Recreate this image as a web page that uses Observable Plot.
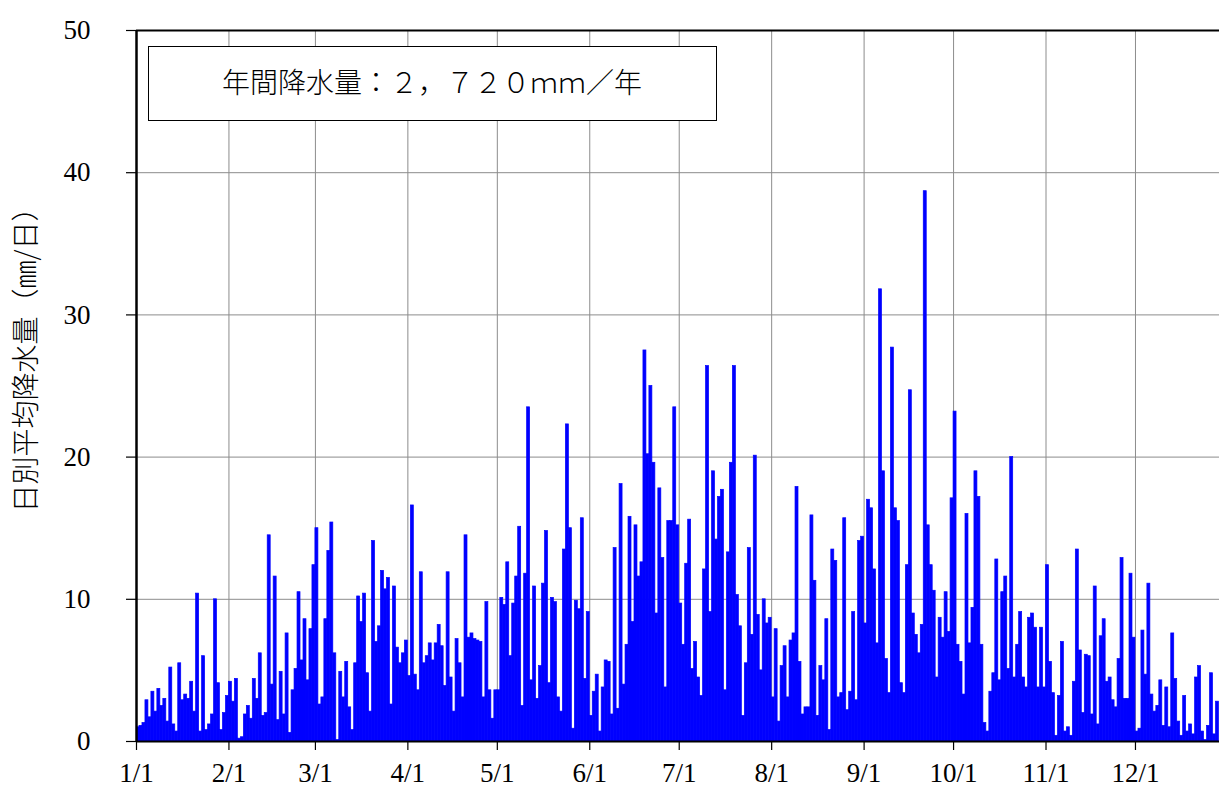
<!DOCTYPE html>
<html>
<head>
<meta charset="utf-8">
<script src="https://cdn.jsdelivr.net/npm/d3@7"></script>
<script src="https://cdn.jsdelivr.net/npm/@observablehq/plot@0.6"></script>
<style>
  html, body { margin: 0; padding: 0; background: white; overflow: hidden; }
  #chart { position: relative; width: 1219px; height: 789px; }
</style>
</head>
<body>
<div id="chart"></div>
<script>
// Daily mean precipitation (mm/day), leap year
const jan = [1.0,1.1,1.3,2.9,1.7,3.5,2.1,3.7,2.5,3.0,1.4,5.2,1.2,0.7,5.5,2.9,3.3,3.0,4.2,2.1,10.4,0.7,6.0,0.8,1.2,1.9,10.0,4.1,0.8,2.0,3.2];
const feb = [4.2,2.8,4.4,0.2,0.3,1.9,2.5,1.6,4.4,3.0,6.2,1.8,2.0,14.5,4.0,11.6,1.5,4.9,1.9,7.6,0.6,3.6,5.1,10.5,5.7,8.6,4.3,7.9,12.4];
const mar = [15.0,2.6,3.1,8.6,13.4,15.4,6.2,0.1,4.9,3.1,5.6,2.4,0.8,5.5,10.2,8.4,10.4,4.8,2.1,14.1,7.0,8.1,12.0,10.7,11.5,2.6,10.9,6.6,5.5,6.2,7.1];
const apr = [4.6,16.6,4.7,3.6,11.9,5.5,6.0,6.9,5.7,6.9,8.2,6.7,3.9,11.9,4.5,2.1,7.2,5.5,3.1,14.5,7.3,7.6,7.2,7.1,7.0,3.1,9.8,3.6,1.6,3.6];
const may = [3.6,10.1,9.6,12.6,6.0,9.7,11.6,15.1,2.5,11.8,23.5,4.3,10.9,3.0,5.3,11.1,14.8,4.1,10.1,9.8,3.1,2.1,13.5,22.3,15.0,0.9,9.9,9.3,15.7,4.4,9.1];
const jun = [1.8,3.5,4.7,0.7,3.8,5.7,5.6,1.9,13.6,2.3,18.1,4.0,6.8,15.8,8.4,15.2,11.6,12.6,27.5,20.2,25.0,19.6,9.0,17.8,12.9,3.8,15.5,15.5,23.5,15.2];
const jul = [9.7,6.8,12.5,15.6,5.1,7.0,4.5,3.2,12.1,26.4,9.1,19.0,14.2,17.2,17.7,3.6,13.3,19.6,26.4,10.3,8.1,1.8,5.5,13.6,7.5,20.1,8.9,5.0,10.0,8.3,8.7];
const aug = [3.1,7.9,1.4,5.3,6.7,3.1,7.1,7.6,17.9,5.6,1.9,2.4,2.4,15.9,11.3,1.8,5.3,4.3,8.6,0.8,13.5,12.7,3.1,3.4,15.7,2.2,3.5,9.1,2.9,14.1,14.4];
const sep = [8.3,17.0,16.4,12.1,6.9,31.8,19.0,5.8,3.4,27.7,16.4,15.5,4.1,3.4,12.4,24.7,9.0,7.5,6.2,8.2,38.7,15.2,12.4,10.6,4.5,8.7,7.3,10.5,7.7,17.1];
const oct = [23.2,6.8,5.6,3.3,16.0,6.9,9.4,19.0,17.2,6.8,1.3,0.7,3.5,4.8,12.8,4.3,10.5,11.6,5.1,20.0,4.5,6.8,9.1,4.5,3.8,8.7,9.0,8.0,3.8,8.0,3.8];
const nov = [12.4,5.6,3.4,0.4,3.2,7.0,0.7,1.0,0.4,4.2,13.5,6.4,2.0,6.1,6.0,1.9,10.9,1.2,7.4,8.6,4.2,4.5,2.9,2.4,5.8,12.9,3.0,3.0,11.8,7.3];
const dec = [0.7,0.9,7.8,4.7,11.1,3.3,2.1,2.5,4.3,1.1,3.8,1.0,7.6,4.4,1.4,0.4,3.2,0.7,1.2,0.5,4.5,5.3,0.7,0.1,1.1,4.8,0.5,2.8];

const monthLabels = ["1/1","2/1","3/1","4/1","5/1","6/1","7/1","8/1","9/1","10/1","11/1","12/1"];
const monthLengths = [31,29,31,30,31,30,31,31,30,31,30,31];
const yTicks = [0,10,20,30,40,50];
const annotation = "年間降水量：２，７２０ｍｍ／年";
const yLabel = "日別平均降水量（㎜/日）";

const months = [jan,feb,mar,apr,may,jun,jul,aug,sep,oct,nov,dec];
const monthStarts = d3.cumsum([0, ...monthLengths.slice(0, 11)]);
const data = [];
months.forEach((arr, m) => arr.forEach((v, i) => data.push({day: monthStarts[m] + i, value: v})));

const font = "'Liberation Serif', 'Noto Sans CJK JP', serif";
const width = 1219, height = 789;
const marginLeft = 136, marginTop = 30, marginBottom = 48, marginRight = 0;
const pxPerDay = 2.982;
const xMax = (width - marginLeft) / pxPerDay;

const plot = Plot.plot({
  width, height, marginLeft, marginTop, marginBottom, marginRight,
  style: {fontFamily: font, fontSize: "27px", color: "black", background: "white"},
  x: {domain: [0, xMax], axis: null},
  y: {domain: [0, 50], axis: null},
  marks: [
    Plot.gridX(monthStarts.slice(1), {stroke: "#8c8c8c", strokeOpacity: 1, strokeWidth: 1}),
    Plot.gridY([10,20,30,40], {stroke: "#8c8c8c", strokeOpacity: 1, strokeWidth: 1}),
    Plot.rectY(data, {x1: "day", x2: d => d.day + 1, y: "value", fill: "#0000ff", stroke: "#0000ff", strokeWidth: 0.7, clip: true}),
    Plot.ruleY([50], {stroke: "black", strokeWidth: 2}),
    Plot.ruleY([0], {stroke: "black", strokeWidth: 2}),
    Plot.ruleX([0], {stroke: "black", strokeWidth: 2.5}),
    Plot.axisY(yTicks, {label: null, tickSize: 10, tickPadding: 36, fontSize: 27, tickFormat: d => String(d), stroke: "black", strokeWidth: 1.2}),
    Plot.axisX(monthStarts, {label: null, tickSize: 9, tickPadding: 12, fontSize: 27, tickFormat: (d, i) => monthLabels[i], stroke: "black", strokeWidth: 1.2})
  ]
});

document.getElementById("chart").appendChild(plot);

// annotation box and y-axis title
const svg = d3.select(plot);
const g = svg.append("g");
g.append("rect").attr("x", 148.5).attr("y", 46.5).attr("width", 568).attr("height", 74)
  .attr("fill", "white").attr("stroke", "black").attr("stroke-width", 1);
g.append("text").attr("x", 432).attr("y", 85).attr("text-anchor", "middle").attr("dominant-baseline", "middle")
  .attr("font-family", "'Noto Sans CJK JP', sans-serif").attr("font-size", 28).attr("font-weight", 300).text(annotation);
svg.append("text").attr("transform", "translate(28,353) rotate(-90)").attr("text-anchor", "middle")
  .attr("dominant-baseline", "middle").attr("font-family", "'Noto Sans CJK JP', sans-serif")
  .attr("font-size", 28).attr("font-weight", 300).text(yLabel);
</script>
</body>
</html>
